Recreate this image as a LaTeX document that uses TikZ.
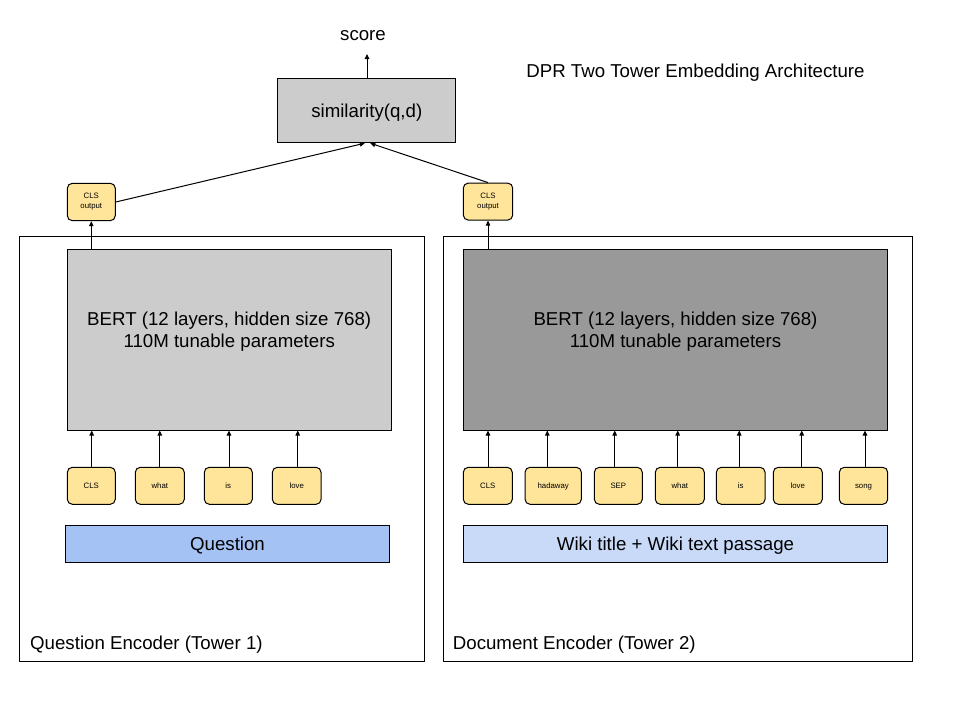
\documentclass[tikz,border=0pt]{standalone}
\usepackage{fontspec}
\setmainfont{Liberation Sans}
\usetikzlibrary{arrows.meta}
\definecolor{tokfill}{HTML}{FFE599}
\definecolor{grayA}{HTML}{CCCCCC}
\definecolor{grayB}{HTML}{999999}
\definecolor{blueA}{HTML}{A4C2F4}
\definecolor{blueB}{HTML}{C9DAF8}
\tikzset{
  big/.style={font=\fontsize{18.67}{21.5}\selectfont},
  bigline/.style={big, text height=13.4pt, text depth=0pt},
  small/.style={font=\fontsize{7.8}{10}\selectfont},
  box/.style={draw=black, line width=1pt, inner sep=0pt},
  tok/.style={box, fill=tokfill, rounded corners=5pt, minimum height=37pt, small, align=center},
  tokline/.style={tok, text height=5.6pt, text depth=0pt},
  arr/.style={line width=1pt, -{Triangle[length=5pt,width=4.5pt]}},
  plain/.style={inner sep=0pt, big}
}
\begin{document}
\begin{tikzpicture}[x=1pt,y=-1pt]
\useasboundingbox (0,0) rectangle (960,720);
% outer towers
\node[box, minimum width=405.4pt, minimum height=425pt] (tower1) at (221.7,448.5) {};
\node[box, minimum width=469pt, minimum height=425pt] (tower2) at (677.8,448.5) {};
\node[plain, anchor=base west] (lab1) at (30,649.7) {Question Encoder (Tower 1)};
\node[plain, anchor=base west] (lab2) at (452.7,649.7) {Document Encoder (Tower 2)};
% BERT blocks
\node[box, fill=grayA, minimum width=323.7pt, minimum height=181pt] (bert1) at (229.2,339.5) {};
\node[box, fill=grayB, minimum width=424.4pt, minimum height=181pt] (bert2) at (675.5,339.5) {};
\node[plain, align=center] (bt1) at (229.2,331.5) {BERT (12 layers, hidden size 768)\\110M tunable parameters};
\node[plain, align=center] (bt2) at (675.5,331.5) {BERT (12 layers, hidden size 768)\\110M tunable parameters};
% input boxes
\node[box, fill=blueA, minimum width=324.4pt, minimum height=37pt, bigline] (q) at (227.5,543.8) {Question};
\node[box, fill=blueB, minimum width=424.4pt, minimum height=37pt, bigline] (w) at (675.5,543.8) {Wiki title + Wiki text passage};
% tokens left
\node[tokline, minimum width=48pt] (l1) at (91.3,485.8) {CLS};
\node[tokline, minimum width=49pt] (l2) at (159.8,485.8) {what};
\node[tokline, minimum width=48pt] (l3) at (228.3,485.8) {is};
\node[tokline, minimum width=48.7pt] (l4) at (296.7,485.8) {love};
% tokens right
\node[tokline, minimum width=49pt] (r1) at (487.8,485.8) {CLS};
\node[tokline, minimum width=56.3pt] (r2) at (553.2,485.8) {hadaway};
\node[tokline, minimum width=48pt] (r3) at (618.3,485.8) {SEP};
\node[tokline, minimum width=49pt] (r4) at (679.8,485.8) {what};
\node[tokline, minimum width=48.7pt] (r5) at (740.7,485.8) {is};
\node[tokline, minimum width=49pt] (r6) at (797.8,485.8) {love};
\node[tokline, minimum width=48.4pt] (r7) at (863.5,485.8) {song};
% token arrows
\foreach \n/\s in {l1/0.4,l2/0,l3/0.7,l4/1}{
  \draw[arr] ([xshift=\s pt]\n.north) -- ([xshift=\s pt]\n.north |- bert1.south);
}
\foreach \n/\s in {r1/0.2,r2/-5.9,r3/-3.6,r4/-2.1,r5/-1.5,r6/3.9,r7/1.5}{
  \draw[arr] ([xshift=\s pt]\n.north) -- ([xshift=\s pt]\n.north |- bert2.south);
}
% CLS outputs
\node[tok, minimum width=48pt, minimum height=37.4pt] (c1) at (91.3,202) {CLS\\output};
\node[tok, minimum width=49.4pt, minimum height=37pt] (c2) at (488,201.6) {CLS\\output};
\draw[arr] (c1.south |- bert1.north) -- (c1.south);
\draw[arr] (c2.south |- bert2.north) -- (c2.south);
% similarity
\node[box, fill=grayA, minimum width=177.7pt, minimum height=64.4pt, bigline] (sim) at (366.8,110.5) {similarity(q,d)};
\draw[arr] (c1.east) -- ([xshift=-2pt]sim.south);
\draw[arr] (c2.north) -- ([xshift=3.5pt]sim.south);
% score
\node[plain, anchor=base] (score) at (363,40) {score};
\coordinate (scoretip) at (367,54);
\draw[arr] (sim.north -| scoretip) -- (scoretip);
% title
\node[plain, anchor=base] (title) at (695.5,77) {DPR Two Tower Embedding Architecture};
\end{tikzpicture}
\end{document}
